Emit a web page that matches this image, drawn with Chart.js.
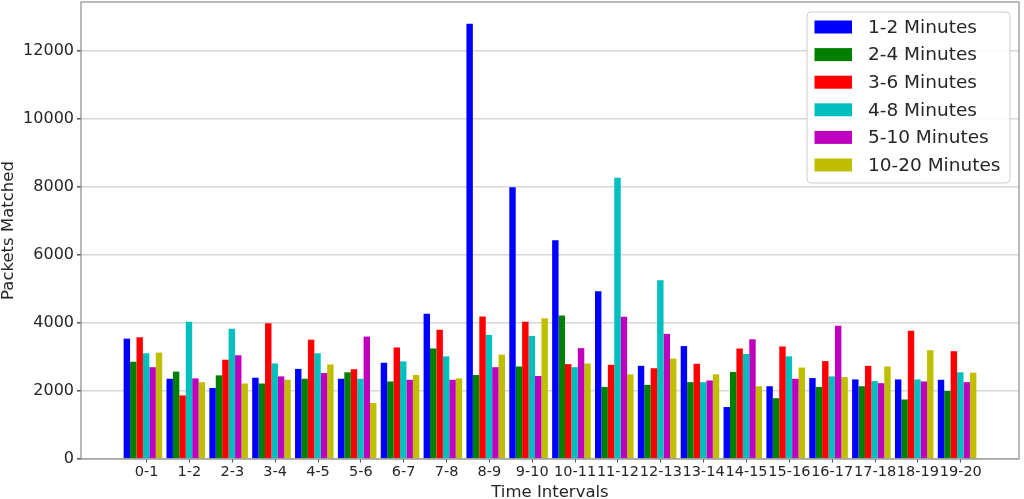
<!DOCTYPE html>
<html>
<head>
<meta charset="utf-8">
<script src="https://cdn.jsdelivr.net/npm/chart.js@4.4.1/dist/chart.umd.min.js"></script>
<style>
  body { margin: 0; background: #fff; }
  #wrap { width: 1024px; height: 499px; position: relative; }
</style>
</head>
<body>
<div id="wrap"><canvas id="chart"></canvas></div>
<script>
// Data
const intervals = ["0-1", "1-2", "2-3", "3-4", "4-5", "5-6", "6-7", "7-8", "8-9", "9-10",
  "10-11", "11-12", "12-13", "13-14", "14-15", "15-16", "16-17", "17-18", "18-19", "19-20"];

const seriesNames = ["1-2 Minutes", "2-4 Minutes", "3-6 Minutes", "4-8 Minutes", "5-10 Minutes", "10-20 Minutes"];
const seriesColors = ["#0000ff", "#008000", "#ff0000", "#00bfbf", "#bf00bf", "#bfbf00"];

const min1to2 = [3540, 2360, 2090, 2390, 2650, 2360, 2830, 4270, 12800, 7990, 6430, 4930, 2740, 3320, 1530, 2140, 2380, 2340, 2340, 2330];
const min2to4 = [2860, 2570, 2460, 2220, 2360, 2550, 2280, 3250, 2470, 2720, 4220, 2120, 2180, 2260, 2560, 1790, 2120, 2140, 1750, 2000];
const min3to6 = [3580, 1870, 2920, 3990, 3510, 2640, 3280, 3800, 4190, 4040, 2790, 2770, 2670, 2800, 3250, 3310, 2880, 2740, 3770, 3170];
const min4to8 = [3110, 4040, 3830, 2810, 3110, 2360, 2870, 3020, 3650, 3620, 2700, 8270, 5260, 2260, 3090, 3020, 2430, 2290, 2340, 2550];
const min5to10 = [2700, 2370, 3050, 2430, 2530, 3600, 2330, 2330, 2700, 2440, 3260, 4180, 3680, 2310, 3520, 2360, 3920, 2230, 2280, 2260];
const min10to20 = [3130, 2260, 2220, 2330, 2780, 1650, 2470, 2370, 3070, 4140, 2810, 2490, 2950, 2490, 2140, 2690, 2410, 2720, 3200, 2540];

const seriesValues = [min1to2, min2to4, min3to6, min4to8, min5to10, min10to20];

const yTicks = [0, 2000, 4000, 6000, 8000, 10000, 12000];
const yMax = 13440;

const textColor = "#262626";
const fontFamily = "DejaVu Sans";

// Frame around the plot area (matplotlib spines)
const framePlugin = {
  id: "frame",
  afterDraw(chart) {
    const { ctx, chartArea: a } = chart;
    ctx.save();
    ctx.strokeStyle = "#8c8c8c";
    ctx.lineWidth = 1.2;
    ctx.strokeRect(a.left, a.top, a.right - a.left, a.bottom - a.top);
    ctx.restore();
  },
};

// Legend box in the upper right corner of the plot
const legendPlugin = {
  id: "cornerLegend",
  afterDraw(chart) {
    const { ctx, chartArea: a } = chart;
    const right = a.right - 9;
    const left = right - 203;
    const top = a.top + 10;
    const rowH = 27.6;
    const height = 171;
    ctx.save();
    ctx.beginPath();
    ctx.roundRect(left, top, right - left, height, 4);
    ctx.fillStyle = "rgba(255,255,255,0.85)";
    ctx.fill();
    ctx.strokeStyle = "#cccccc";
    ctx.lineWidth = 1;
    ctx.stroke();
    ctx.font = "18.5px '" + fontFamily + "'";
    ctx.textBaseline = "middle";
    chart.data.datasets.forEach((ds, i) => {
      const cy = top + 15 + i * rowH;
      ctx.fillStyle = ds.backgroundColor;
      ctx.fillRect(left + 7.5, cy - 6.5, 37.5, 13);
      ctx.fillStyle = textColor;
      ctx.fillText(ds.label, left + 61, cy + 1);
    });
    ctx.restore();
  },
};

const datasets = seriesNames.map((name, s) => ({
  label: name,
  data: seriesValues[s].map((v, i) => ({ x: i, y: v })),
  backgroundColor: seriesColors[s],
  borderWidth: 0,
  categoryPercentage: 0.9,
  barPercentage: 1.0,
}));

new Chart(document.getElementById("chart"), {
  type: "bar",
  data: { datasets: datasets },
  plugins: [framePlugin, legendPlugin],
  options: {
    responsive: true,
    maintainAspectRatio: false,
    animation: false,
    layout: { padding: { left: 0, right: 5, top: 2, bottom: 0 } },
    plugins: {
      legend: { display: false },
      tooltip: { enabled: false },
    },
    scales: {
      x: {
        type: "linear",
        min: -1.445,
        max: 20.445,
        offset: false,
        afterBuildTicks: (axis) => {
          axis.ticks = intervals.map((_, i) => ({ value: i + 0.086 }));
        },
        ticks: {
          autoSkip: false,
          maxRotation: 0,
          minRotation: 0,
          padding: 1,
          color: textColor,
          font: { family: fontFamily, size: 14.5 },
          callback: (value) => intervals[Math.round(value)] ?? "",
        },
        grid: { drawOnChartArea: false, offset: false, tickLength: 3.5, tickColor: "#555555" },
        border: { display: false },
        title: {
          display: true,
          text: "Time Intervals",
          color: textColor,
          font: { family: fontFamily, size: 16.5, lineHeight: 1.0 },
          padding: { top: 0, bottom: -2 },
        },
        afterFit: (scale) => {
          scale.height = 40;
        },
      },
      y: {
        min: 0,
        max: yMax,
        z: 1,
        afterBuildTicks: (axis) => {
          axis.ticks = yTicks.map((v) => ({ value: v }));
        },
        ticks: {
          padding: 3,
          color: textColor,
          font: { family: fontFamily, size: 16 },
          callback: (value) => String(value),
        },
        grid: {
          color: "rgba(176,176,176,0.5)",
          lineWidth: 1.5,
          tickLength: 4,
          tickColor: "#555555",
        },
        border: { display: false },
        title: {
          display: true,
          text: "Packets Matched",
          color: textColor,
          font: { family: fontFamily, size: 16.5, lineHeight: 1.0 },
          padding: { top: 0, bottom: 0 },
        },
        afterFit: (scale) => {
          scale.width = 81;
          scale.paddingTop = 0;
          scale.paddingBottom = 0;
        },
      },
    },
  },
});
</script>
</body>
</html>
